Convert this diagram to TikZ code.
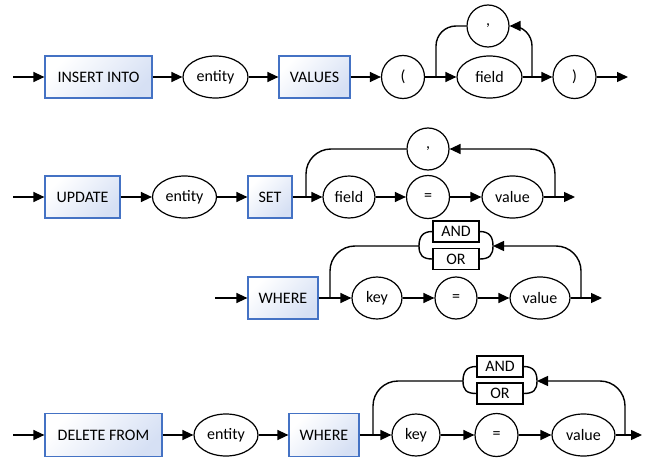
\documentclass[tikz,border=0pt]{standalone}
\usepackage{fontspec}
\setmainfont{Carlito}
\usetikzlibrary{shapes.geometric,arrows.meta}
\definecolor{kwblue}{RGB}{68,114,196}
\definecolor{kwfill}{RGB}{214,224,244}

\begin{document}
\begin{tikzpicture}[x=1pt, y=-1pt,
    font=\fontsize{16}{19}\selectfont,
    kwbox/.style={draw=kwblue, line width=1.2pt, top color=white, bottom color=kwfill,
      shading angle=45, minimum height=42pt, inner sep=0pt},
    term/.style={draw, ellipse, line width=1.2pt, fill=white, minimum height=42pt, inner sep=0pt},
    sym/.style={draw, circle, line width=1.2pt, fill=white, minimum size=43pt, inner sep=0pt},
    opbox/.style={draw, line width=1.2pt, fill=white, minimum width=46pt, minimum height=21pt,
      inner sep=0pt},
    flow/.style={line width=1.4pt, -{Triangle[length=11pt,width=10pt]}},
    link/.style={line width=1.4pt}]
  \useasboundingbox (0,0) rectangle (654,460);

  % INSERT INTO
  \coordinate (s1) at (13,77);
  \coordinate (e1) at (628,77);
  \node[kwbox, minimum width=107pt] (ins) at (98.5,77) {INSERT INTO};
  \node[term, minimum width=65pt] (ent1) at (215.5,77) {entity};
  \node[kwbox, minimum width=71pt] (vals) at (314.5,77) {VALUES};
  \node[sym] (lp) at (403,77) {(};
  \node[term, minimum width=65pt] (fld1) at (489.5,77) {field};
  \node[sym] (rp) at (574.5,77) {)};
  \node[sym, minimum size=42pt] (comma1) at (488,26) {,};
  \coordinate (b1a) at (436,77);
  \coordinate (b1b) at (532,77);
  \draw[flow] (s1) -- (ins);
  \draw[flow] (ins) -- (ent1);
  \draw[flow] (ent1) -- (vals);
  \draw[flow] (vals) -- (lp);
  \draw[flow] (lp) -- (fld1);
  \draw[flow] (fld1) -- (rp);
  \draw[flow] (rp) -- (e1);
  \draw[flow, rounded corners=20pt] (b1b) |- (comma1);
  \draw[link, rounded corners=20pt] (comma1) -| (b1a);

  % UPDATE ... SET
  \coordinate (s2) at (13,197);
  \coordinate (e2) at (575,197);
  \node[kwbox, minimum width=75pt] (upd) at (82.5,197) {UPDATE};
  \node[term, minimum width=64pt] (ent2) at (184.5,197) {entity};
  \node[kwbox, minimum width=44pt] (set) at (270,197) {SET};
  \node[term, minimum width=52pt] (fld2) at (349,197) {field};
  \node[sym] (eq2) at (428,197) {=};
  \node[term, minimum width=61pt] (val2) at (512.5,197) {value};
  \node[sym, minimum size=42pt] (comma2) at (428,149) {,};
  \coordinate (b2a) at (306,197);
  \coordinate (b2b) at (555,197);
  \draw[flow] (s2) -- (upd);
  \draw[flow] (upd) -- (ent2);
  \draw[flow] (ent2) -- (set);
  \draw[flow] (set) -- (fld2);
  \draw[flow] (fld2) -- (eq2);
  \draw[flow] (eq2) -- (val2);
  \draw[flow] (val2) -- (e2);
  \draw[flow, rounded corners=25pt] (b2b) |- (comma2);
  \draw[link, rounded corners=25pt] (comma2) -| (b2a);

  % WHERE (update)
  \coordinate (s3) at (215,298);
  \coordinate (e3) at (602,298);
  \node[kwbox, minimum width=70pt] (whr1) at (283,298) {WHERE};
  \node[term, minimum width=50pt] (key1) at (377,298) {key};
  \node[sym, minimum size=42pt] (eq3) at (456,298) {=};
  \node[term, minimum width=60pt] (val3) at (540,298) {value};
  \node[opbox] (and1) at (456,231.5) {AND};
  \node[opbox] (or1) at (456,259) {OR};
  \coordinate (c3l) at (419,246);
  \coordinate (c3r) at (493,246);
  \coordinate (b3a) at (330,298);
  \coordinate (b3b) at (581,298);
  \draw[flow] (s3) -- (whr1);
  \draw[flow] (whr1) -- (key1);
  \draw[flow] (key1) -- (eq3);
  \draw[flow] (eq3) -- (val3);
  \draw[flow] (val3) -- (e3);
  \draw[link] (and1.east) .. controls +(10,0) and +(0,-9) .. (c3r)
    .. controls +(0,9) and +(10,0) .. (or1.east);
  \draw[link] (and1.west) .. controls +(-10,0) and +(0,-9) .. (c3l)
    .. controls +(0,9) and +(-10,0) .. (or1.west);
  \draw[flow, rounded corners=25pt] (b3b) |- (c3r);
  \draw[link, rounded corners=25pt] (c3l) -| (b3a);

  % DELETE FROM
  \coordinate (s4) at (13,435);
  \coordinate (e4) at (642,435);
  \node[kwbox, minimum width=117pt, minimum height=43pt] (del) at (103.5,435) {DELETE FROM};
  \node[term, minimum width=64pt] (ent3) at (226,435) {entity};
  \node[kwbox, minimum width=70pt, minimum height=43pt] (whr2) at (324,435) {WHERE};
  \node[term, minimum width=48pt] (key2) at (416,435) {key};
  \node[sym] (eq4) at (496.5,435) {=};
  \node[term, minimum width=63pt] (val4) at (583.5,435) {value};
  \node[opbox] (and2) at (500,366.5) {AND};
  \node[opbox] (or2) at (500,393.5) {OR};
  \coordinate (c4l) at (463,381);
  \coordinate (c4r) at (537,381);
  \coordinate (b4a) at (373,435);
  \coordinate (b4b) at (625,435);
  \draw[flow] (s4) -- (del);
  \draw[flow] (del) -- (ent3);
  \draw[flow] (ent3) -- (whr2);
  \draw[flow] (whr2) -- (key2);
  \draw[flow] (key2) -- (eq4);
  \draw[flow] (eq4) -- (val4);
  \draw[flow] (val4) -- (e4);
  \draw[link] (and2.east) .. controls +(10,0) and +(0,-9) .. (c4r)
    .. controls +(0,9) and +(10,0) .. (or2.east);
  \draw[link] (and2.west) .. controls +(-10,0) and +(0,-9) .. (c4l)
    .. controls +(0,9) and +(-10,0) .. (or2.west);
  \draw[flow, rounded corners=25pt] (b4b) |- (c4r);
  \draw[link, rounded corners=25pt] (c4l) -| (b4a);
\end{tikzpicture}
\end{document}
